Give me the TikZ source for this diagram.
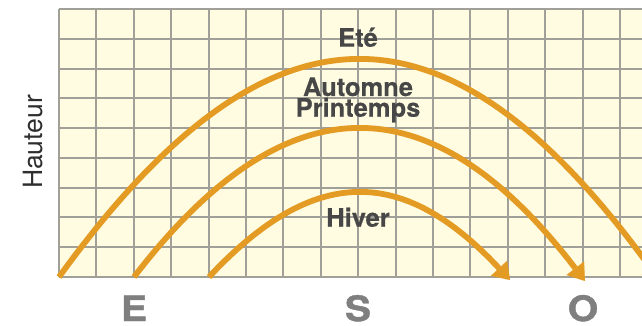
\documentclass[tikz,border=0pt]{standalone}
\usepackage{fontspec}
\setmainfont{TeX Gyre Heros}
\newfontfamily\seasonfont[BoldFeatures={FakeBold=0.4}]{TeX Gyre Heros}
\newfontfamily\dirfont[FakeStretch=1.12,BoldFeatures={FakeBold=1.2}]{TeX Gyre Heros}
\usetikzlibrary{arrows.meta}
\definecolor{sunorange}{HTML}{E49B24}
\definecolor{gridbg}{HTML}{FFFCE1}
\definecolor{gridln}{HTML}{A09F98}
\definecolor{labeltxt}{HTML}{474747}
\definecolor{axistxt}{HTML}{2E2E2E}
\definecolor{dirtxt}{HTML}{7F7F7F}
\begin{document}
\begin{tikzpicture}[x=1pt,y=-1pt,
  gridline/.style={draw=gridln,line width=1.3pt},
  sunpath/.style={draw=sunorange,line width=5.8pt,-{Triangle[length=16pt,width=22pt,line width=0.01pt]}},
  season/.style={anchor=base,text=labeltxt,font=\fontsize{25.5}{25.5}\selectfont\seasonfont\bfseries,inner sep=0pt},
  axislabel/.style={anchor=base,rotate=90,text=axistxt,font=\fontsize{26.5}{26.5}\selectfont,inner sep=0pt},
  dirlabel/.style={anchor=base,text=dirtxt,font=\fontsize{35}{35}\selectfont\dirfont\bfseries,inner sep=0pt}]
\useasboundingbox (0,0) rectangle (642,326);
\clip (0,0) rectangle (642,326);
% grid background
\fill[gridbg] (59,9) rectangle (642,277);
\foreach \i in {0,...,16} \draw[gridline] ({round(59+37.4*\i)},9) -- ({round(59+37.4*\i)},277);
\foreach \j in {0,...,9} \draw[gridline] (59,{round(9+29.78*\j)}) -- (642,{round(9+29.78*\j)});
% sun paths
\coordinate (eteS) at (59,277);
\coordinate (eteE) at (660,281);
\coordinate (eqS) at (134,277);
\coordinate (eqE) at (585,281);
\coordinate (hivS) at (209,277);
\coordinate (hivE) at (510,280);
\draw[sunpath] (eteS) .. controls (268.3,-12.3) and (447.7,-12.3) .. (eteE);
\draw[sunpath] (eqS) .. controls (285,79.7) and (431,79.7) .. (eqE);
\draw[sunpath] (hivS) .. controls (313.3,165) and (402.7,165) .. (hivE);
% labels
\node[season] (ete) at (358,46.7) {Eté};
\node[season] (automne) at (358,96) {Automne};
\node[season] (printemps) at (358,116.7) {Printemps};
\node[season] (hiver) at (358,226.7) {Hiver};
\node[axislabel] (hauteur) at (42,142) {Hauteur};
\node[dirlabel] (est) at (134,321) {E};
\node[dirlabel] (sud) at (358,321) {S};
\node[dirlabel] (ouest) at (583,321) {O};
\end{tikzpicture}
\end{document}
